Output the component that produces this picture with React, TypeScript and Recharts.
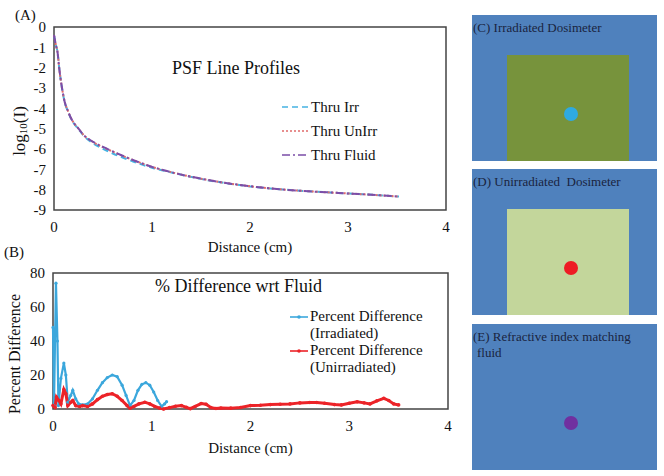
import { LineChart, Line, XAxis, YAxis, Legend, ReferenceArea } from "recharts";

// (A) PSF line profiles, log10 intensity vs distance
const profileDist = [0, 0.01, 0.02, 0.035, 0.055, 0.08, 0.11, 0.14, 0.17, 0.2, 0.25, 0.3, 0.4, 0.5, 0.6, 0.7, 0.8, 0.9, 1.0, 1.15, 1.3, 1.5, 1.7, 2.0, 2.3, 2.6, 2.9, 3.2, 3.52];
const thruIrr = [-0.4, -0.65, -0.9, -1.2, -2.1, -2.95, -3.72, -4.12, -4.47, -4.72, -5.02, -5.33, -5.72, -5.99, -6.22, -6.42, -6.6, -6.77, -6.92, -7.1, -7.27, -7.47, -7.64, -7.84, -7.98, -8.08, -8.16, -8.24, -8.34];
const thruUnirr = [-0.4, -0.65, -0.9, -1.2, -2.1, -2.95, -3.7, -4.1, -4.45, -4.7, -5.0, -5.3, -5.66, -5.91, -6.13, -6.34, -6.53, -6.71, -6.88, -7.08, -7.26, -7.46, -7.63, -7.83, -7.98, -8.08, -8.16, -8.24, -8.34];
const thruFluid = [-0.4, -0.65, -0.9, -1.2, -2.1, -2.95, -3.7, -4.1, -4.45, -4.7, -5.0, -5.3, -5.65, -5.9, -6.12, -6.33, -6.53, -6.71, -6.88, -7.08, -7.26, -7.46, -7.63, -7.83, -7.98, -8.08, -8.16, -8.24, -8.34];
const profileTicksX = [0, 1, 2, 3, 4];
const profileTicksY = [-9, -8, -7, -6, -5, -4, -3, -2, -1, 0];

// (B) percent difference wrt fluid
const irrDist = [0, 0.01, 0.03, 0.045, 0.055, 0.08, 0.11, 0.13, 0.15, 0.18, 0.2, 0.23, 0.26, 0.3, 0.35, 0.4, 0.45, 0.5, 0.55, 0.6, 0.65, 0.7, 0.74, 0.78, 0.82, 0.86, 0.9, 0.94, 0.98, 1.02, 1.06, 1.1, 1.13, 1.15];
const irrPct = [48, 2, 74, 40, 2, 18, 27, 20, 4, 8, 11, 6, 3, 2.5, 3, 6, 11, 15.5, 18.5, 20, 19, 14, 8, 2, 5, 11, 14.5, 15.5, 14, 10, 5, 1.5, 3, 4.3];
const unirrDist = [0, 0.02, 0.035, 0.06, 0.08, 0.11, 0.13, 0.15, 0.18, 0.2, 0.23, 0.27, 0.3, 0.35, 0.4, 0.45, 0.5, 0.55, 0.6, 0.65, 0.7, 0.75, 0.78, 0.82, 0.87, 0.93, 0.98, 1.03, 1.08, 1.12, 1.18, 1.24, 1.3, 1.35, 1.39, 1.44, 1.5, 1.55, 1.6, 1.65, 1.7, 1.8, 1.9, 2.0, 2.1, 2.2, 2.3, 2.4, 2.5, 2.6, 2.67, 2.75, 2.85, 2.92, 3.0, 3.08, 3.15, 3.21, 3.28, 3.35, 3.4, 3.45, 3.5];
const unirrPct = [2, 1, 7, 5, 3, 11.5, 9, 2, 4, 5, 2, 1.5, 2, 1.5, 3, 5.5, 7.5, 8.5, 9, 7.5, 5, 2, 0.5, 1.5, 3, 4, 3, 1.5, 0.5, 0, 0.8, 1.6, 2, 1, 0.2, 1.5, 3.2, 2.8, 0.8, 0.3, 0.6, 0.5, 0.9, 2, 2.2, 2.6, 2.8, 3, 3.6, 3.8, 3.8, 3.4, 2.6, 2.4, 3.4, 4.3, 3.6, 3, 4.8, 6.3, 5, 3, 2.4];
const pctTicksY = [0, 20, 40, 60, 80];

const profileRows = profileDist.map((x, i) => ({ x, irr: thruIrr[i], unirr: thruUnirr[i], fluid: thruFluid[i] }));
const irrRows = irrDist.map((x, i) => ({ x, pct: irrPct[i] }));
const unirrRows = unirrDist.map((x, i) => ({ x, pct: unirrPct[i] }));

const SERIF = "Liberation Serif, Times New Roman, serif";
const tickStyle = { fill: "#111", fontSize: 15, fontFamily: SERIF };

const profileSeries = [
  { key: "irr", name: "Thru Irr", color: "#45b3e2", dash: "6 4" },
  { key: "unirr", name: "Thru UnIrr", color: "#e06a6a", dash: "2 2" },
  { key: "fluid", name: "Thru Fluid", color: "#7b4ea8", dash: "8 3 2 3" },
];
const pctSeries = [
  { name: "Percent Difference", sub: "(Irradiated)", color: "#3ba7dc" },
  { name: "Percent Difference", sub: "(Unirradiated)", color: "#ec2328" },
];

function ProfileLegend() {
  return (
    <div style={{ fontFamily: SERIF, fontSize: 15, color: "#111" }}>
      {profileSeries.map((s) => (
        <div key={s.key} style={{ display: "flex", alignItems: "center", height: 24 }}>
          <svg width={29} height={10}>
            <line x1={0} y1={5} x2={27} y2={5} stroke={s.color} strokeWidth={1.6} strokeDasharray={s.dash} />
          </svg>
          <span>{s.name}</span>
        </div>
      ))}
    </div>
  );
}

function PctLegend() {
  return (
    <div style={{ fontFamily: SERIF, fontSize: 15, color: "#111", lineHeight: "17px" }}>
      {pctSeries.map((s, i) => (
        <div key={i} style={{ display: "flex", alignItems: "flex-start" }}>
          <svg width={20} height={17}>
            <line x1={0} y1={9} x2={18} y2={9} stroke={s.color} strokeWidth={1.6} />
            <circle cx={9} cy={9} r={1.8} fill={s.color} />
          </svg>
          <div>
            <div>{s.name}</div>
            <div>{s.sub}</div>
          </div>
        </div>
      ))}
    </div>
  );
}

const panelLabel = { position: "absolute" as const, fontFamily: SERIF, fontSize: 13, color: "#1a2440", whiteSpace: "pre" as const };

function Panel({ top, inner, dot, label, label2 }: { top: number; inner: string | null; dot: string; label: string; label2?: string }) {
  return (
    <div style={{ position: "absolute", left: 472, top, width: 185, height: 146, background: "#4f81bd" }}>
      {inner && <div style={{ position: "absolute", left: 35, top: 40, width: 122, height: 106, background: inner }} />}
      <div style={{ position: "absolute", left: 92, top: 92, width: 14, height: 14, borderRadius: 7, background: dot }} />
      <div style={{ ...panelLabel, left: 1, top: 5 }}>{label}</div>
      {label2 && <div style={{ ...panelLabel, left: 5, top: 21 }}>{label2}</div>}
    </div>
  );
}

export default function App() {
  return (
    <div style={{ position: "absolute", left: 0, top: 0, width: 664, height: 476, background: "#fff", fontFamily: SERIF }}>
      {/* (A) */}
      <div style={{ position: "absolute", left: 0, top: 0 }}>
        <LineChart width={460} height={260} data={profileRows} margin={{ top: 27, right: 14, left: 24, bottom: 20 }} style={{ fontFamily: SERIF }}>
          <XAxis
            dataKey="x"
            type="number"
            domain={[0, 4]}
            ticks={profileTicksX}
            interval={0}
            tick={tickStyle}
            tickLine={false}
            axisLine={false}
            height={30}
            tickMargin={5}
            label={{
              content: ({ viewBox }: any) => (
                <text x={viewBox.x + viewBox.width / 2} y={viewBox.y + 42} textAnchor="middle" fontFamily={SERIF} fontSize={15} fill="#111">
                  Distance (cm)
                </text>
              ),
            }}
          />
          <YAxis
            type="number"
            domain={[-9, 0]}
            ticks={profileTicksY}
            interval={0}
            tick={tickStyle}
            tickLine={false}
            axisLine={false}
            width={30}
            label={{
              content: () => (
                <text x={19} y={131} transform="rotate(-90 19 131)" textAnchor="middle" dominantBaseline="central" fontFamily={SERIF} fontSize={17} fill="#111">
                  log<tspan dy={4} fontSize={11}>10</tspan><tspan dy={-4}>(I)</tspan>
                </text>
              ),
            }}
          />
          <ReferenceArea x1={0} x2={4} y1={-9} y2={0} fill="none" stroke="#444" strokeWidth={1.5} ifOverflow="visible" />
          {profileSeries.map((s) => (
            <Line key={s.key} dataKey={s.key} name={s.name} stroke={s.color} strokeWidth={2} strokeDasharray={s.dash} dot={false} isAnimationActive={false} type="monotone" />
          ))}
          <Legend layout="vertical" align="center" verticalAlign="middle" content={() => <ProfileLegend />} wrapperStyle={{ left: 282, top: 95, width: 120 }} />
        </LineChart>
        <div style={{ position: "absolute", left: 172, top: 58, fontSize: 18, color: "#111", whiteSpace: "nowrap" }}>PSF Line Profiles</div>
      </div>
      <div style={{ position: "absolute", left: 15, top: 7, fontSize: 15, color: "#111" }}>(A)</div>

      {/* (B) */}
      <div style={{ position: "absolute", left: 0, top: 230 }}>
        <LineChart width={460} height={240} margin={{ top: 43, right: 12, left: 23, bottom: 31 }} style={{ fontFamily: SERIF }}>
          <XAxis
            dataKey="x"
            type="number"
            domain={[0, 4]}
            ticks={profileTicksX}
            interval={0}
            tick={tickStyle}
            tickLine={false}
            axisLine={false}
            height={30}
            tickMargin={5}
            allowDuplicatedCategory={false}
            label={{
              content: ({ viewBox }: any) => (
                <text x={viewBox.x + viewBox.width / 2} y={viewBox.y + 44} textAnchor="middle" fontFamily={SERIF} fontSize={15} fill="#111">
                  Distance (cm)
                </text>
              ),
            }}
          />
          <YAxis
            type="number"
            domain={[0, 80]}
            ticks={pctTicksY}
            interval={0}
            tick={tickStyle}
            tickLine={false}
            axisLine={false}
            width={30}
            label={{
              content: () => (
                <text x={14} y={124} transform="rotate(-90 14 124)" textAnchor="middle" dominantBaseline="central" fontFamily={SERIF} fontSize={16} fill="#111">
                  Percent Difference
                </text>
              ),
            }}
          />
          <ReferenceArea x1={0} x2={4} y1={0} y2={80} fill="none" stroke="#444" strokeWidth={1.5} ifOverflow="visible" />
          <Line data={irrRows} dataKey="pct" name="Percent Difference (Irradiated)" stroke={pctSeries[0].color} strokeWidth={2.2} dot={{ r: 1.6, fill: pctSeries[0].color, stroke: "none" }} isAnimationActive={false} />
          <Line data={unirrRows} dataKey="pct" name="Percent Difference (Unirradiated)" stroke={pctSeries[1].color} strokeWidth={3} dot={{ r: 1.8, fill: pctSeries[1].color, stroke: "none" }} isAnimationActive={false} />
          <Legend layout="vertical" align="center" verticalAlign="middle" content={() => <PctLegend />} wrapperStyle={{ left: 290, top: 78, width: 150 }} />
        </LineChart>
        <div style={{ position: "absolute", left: 155, top: 46, fontSize: 18, color: "#111", whiteSpace: "nowrap" }}>% Difference wrt Fluid</div>
      </div>
      <div style={{ position: "absolute", left: 4, top: 244, fontSize: 15, color: "#111" }}>(B)</div>

      {/* (C)-(E) schematic panels */}
      <Panel top={15} inner="#77933c" dot="#2eaae1" label="(C) Irradiated Dosimeter" />
      <Panel top={169} inner="#c3d69b" dot="#ee1c24" label="(D) Unirradiated  Dosimeter" />
      <Panel top={324} inner={null} dot="#7030a0" label="(E) Refractive index matching" label2="fluid" />
    </div>
  );
}
